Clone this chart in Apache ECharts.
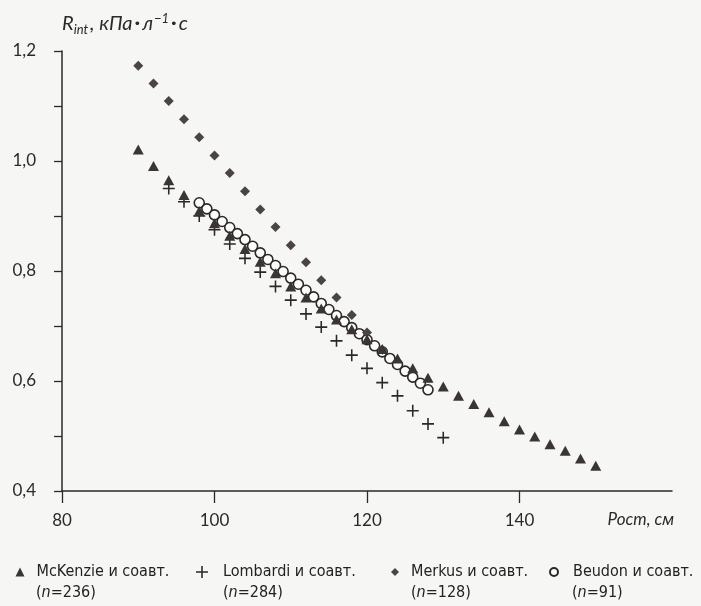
<!DOCTYPE html>
<html>
<head>
<meta charset="utf-8">
<script src="https://cdn.jsdelivr.net/npm/echarts@6/dist/echarts.min.js"></script>
<style>
html,body{margin:0;padding:0;background:#f6f6f4;}
#chart{width:701px;height:606px;}
</style>
</head>
<body>
<div id="chart"></div>
<script>
// ---- data (height in cm, Rint in kPa·L^-1·s) ----
const mckenzieX = [90,92,94,96,98,100,102,104,106,108,110,112,114,116,118,120,122,124,126,128,130,132,134,136,138,140,142,144,146,148,150];
const mckenzieY = [1.021,0.991,0.965,0.938,0.909,0.887,0.864,0.840,0.817,0.796,0.772,0.752,0.732,0.712,0.694,0.676,0.658,0.641,0.623,0.606,0.590,0.573,0.558,0.543,0.527,0.512,0.499,0.485,0.473,0.459,0.446];

const lombardiX = [94,96,98,100,102,104,106,108,110,112,114,116,118,120,122,124,126,128,130];
const lombardiY = [0.950,0.926,0.900,0.875,0.849,0.823,0.798,0.772,0.747,0.722,0.698,0.673,0.647,0.623,0.597,0.573,0.546,0.522,0.497];

const merkusX = [90,92,94,96,98,100,102,104,106,108,110,112,114,116,118,120,122];
const merkusY = [1.173,1.141,1.109,1.076,1.043,1.010,0.978,0.945,0.912,0.880,0.847,0.816,0.783,0.752,0.720,0.688,0.657];

const beudonX = [98,99,100,101,102,103,104,105,106,107,108,109,110,111,112,113,114,115,116,117,118,119,120,121,122,123,124,125,126,127,128];
const beudonY = [0.924,0.913,0.902,0.890,0.879,0.868,0.857,0.845,0.833,0.821,0.810,0.799,0.787,0.776,0.765,0.753,0.741,0.730,0.719,0.708,0.697,0.686,0.675,0.664,0.653,0.641,0.630,0.618,0.607,0.596,0.584];

const seriesNames = ['McKenzie и соавт.', 'Lombardi и соавт.', 'Merkus и соавт.', 'Beudon и соавт.'];
const sampleSizes = ['236', '284', '128', '91'];
const xTicks = [80, 100, 120, 140, 160];
const yTicks = [0.4, 0.6, 0.8, 1.0, 1.2];

// ---- rendering ----
const pair = (xs, ys) => xs.map((x, i) => [x, ys[i]]);
const plusPath = 'path://M4.35,0H5.65V4.35H10V5.65H5.65V10H4.35V5.65H0V4.35H4.35Z';
const axisFont = 'Lato, "Open Sans", sans-serif';
const legendFont = '"DejaVu Sans Condensed", "Liberation Sans Narrow", sans-serif';
const ink = '#2b2928';

function legendAt(name, icon, w, left, pad) {
  return {
    show: true, orient: 'horizontal', left: left, top: 563, padding: 0,
    itemWidth: w, itemHeight: w, itemGap: 0,
    data: [{ name: name, icon: icon }],
    textStyle: { fontFamily: legendFont, fontSize: 16, color: '#222', padding: [0, 0, 0, pad], lineHeight: 18 },
    selectedMode: false
  };
}

const tStyle = { fontFamily: axisFont, fontStyle: 'italic', fontWeight: 'normal', color: '#2a2a2a', lineHeight: 26 };
const chart = echarts.init(document.getElementById('chart'), null, { renderer: 'canvas' });
chart.setOption({
  backgroundColor: '#f6f6f4',
  animation: false,
  title: {
    left: 62, top: 11, padding: 0,
    text: '{r|R}{s|int}{r|, кПа}{b|•}{r|л}{p|−1}{b|•}{r|с}',
    textStyle: {
      fontWeight: 'normal',
      rich: {
        r: Object.assign({}, tStyle, { fontSize: 20 }),
        s: Object.assign({}, tStyle, { fontSize: 13, padding: [11, 2, 0, 0] }),
        p: Object.assign({}, tStyle, { fontSize: 13, padding: [0, 0, 10, 1] }),
        b: Object.assign({}, tStyle, { fontSize: 13, fontStyle: 'normal', fontFamily: '"DejaVu Sans", sans-serif', padding: [2, 1, 0, 1] })
      }
    }
  },
  grid: { left: 62, right: 29, top: 51, bottom: 115, containLabel: false },
  xAxis: {
    type: 'value', min: xTicks[0], max: xTicks[xTicks.length - 1], interval: 20,
    name: 'Рост, см', nameLocation: 'end', nameGap: 2,
    nameTextStyle: { fontFamily: axisFont, fontStyle: 'italic', fontSize: 17, color: '#2a2a2a', align: 'right', verticalAlign: 'top', padding: [20, 0, 0, 0] },
    axisLine: { show: true, onZero: false, lineStyle: { color: ink, width: 1.5 } },
    axisTick: { show: true, inside: false, length: 12, lineStyle: { color: ink, width: 1.3 } },
    axisLabel: { margin: 21, fontFamily: axisFont, fontSize: 17, color: '#2a2a2a', showMaxLabel: false,
      formatter: v => (xTicks.indexOf(v) >= 0 && v !== 160) ? String(v) : '' },
    splitLine: { show: false }
  },
  yAxis: {
    type: 'value', min: yTicks[0], max: yTicks[yTicks.length - 1], interval: 0.1,
    axisLine: { show: true, onZero: false, lineStyle: { color: ink, width: 1.5 } },
    axisTick: { show: true, inside: false, length: 8, lineStyle: { color: ink, width: 1.3 } },
    axisLabel: { margin: 26, fontFamily: axisFont, fontSize: 17, color: '#2a2a2a',
      formatter: v => {
        const r = Math.round(v * 10) / 10;
        return yTicks.some(t => Math.abs(t - r) < 1e-6) ? r.toFixed(1).replace('.', ',') : '';
      } },
    splitLine: { show: false }
  },
  legend: [
    legendAt(seriesNames[0], 'triangle', 9, 15.5, 7),
    legendAt(seriesNames[1], plusPath, 12, 196, 10),
    legendAt(seriesNames[2], 'diamond', 8, 391, 7),
    legendAt(seriesNames[3], 'circle', 8, 549, 10)
  ],
  graphic: sampleSizes.map((n, i) => ({
    type: 'text', left: [36, 223, 411, 572][i], top: 585,
    style: {
      text: '({i|n}=' + n + ')',
      font: '16px ' + legendFont, fill: '#222',
      rich: { i: { fontStyle: 'italic', fontFamily: legendFont, fontSize: 16, fill: '#222' } }
    }
  })),
  series: [
    { name: seriesNames[0], type: 'scatter', z: 5, data: pair(mckenzieX, mckenzieY),
      symbol: 'triangle', symbolSize: [11, 10], itemStyle: { color: '#3a3432', opacity: 1 } },
    { name: seriesNames[1], type: 'scatter', z: 3, data: pair(lombardiX, lombardiY),
      symbol: plusPath, symbolSize: 12, itemStyle: { color: '#2a2828', opacity: 1 } },
    { name: seriesNames[2], type: 'scatter', z: 4, data: pair(merkusX, merkusY),
      symbol: 'path://M5,0L10,5L5,10L0,5Z', symbolSize: 10, itemStyle: { color: '#4a4442', opacity: 1 } },
    { name: seriesNames[3], type: 'scatter', z: 2, data: pair(beudonX, beudonY),
      symbol: 'circle', symbolSize: 10, itemStyle: { color: '#fbfbfa', borderColor: '#2a2828', borderWidth: 1.6, opacity: 1 } }
  ]
});
</script>
</body>
</html>
